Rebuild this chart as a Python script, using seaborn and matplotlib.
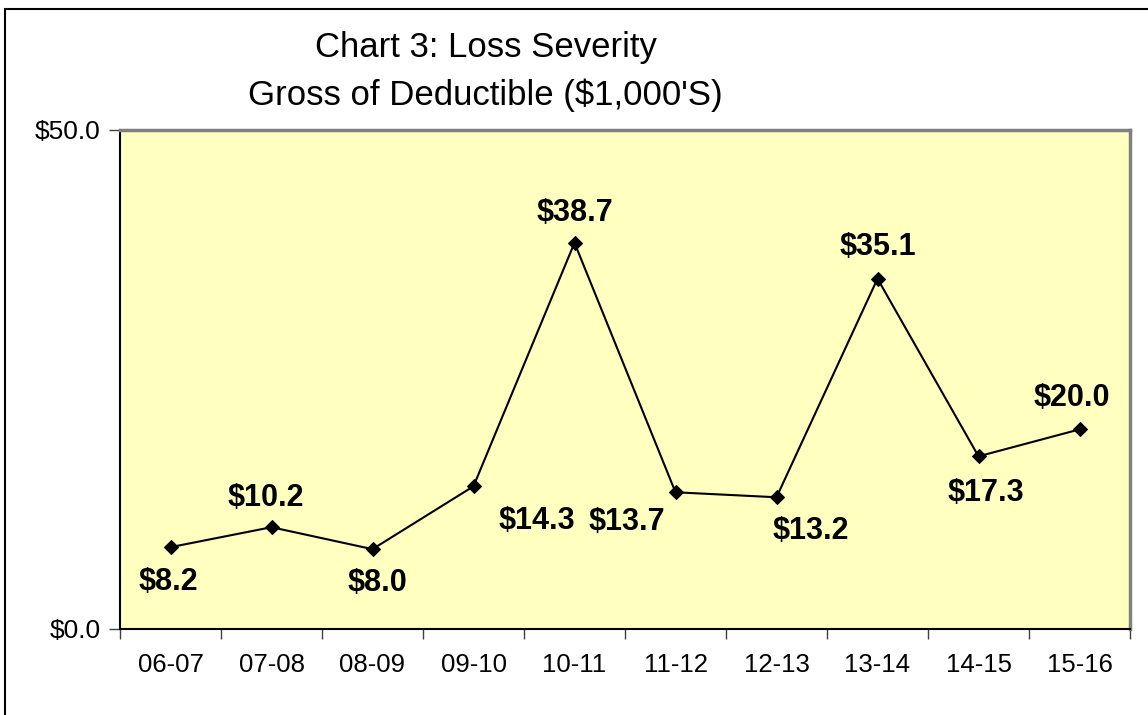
import pandas as pd
import matplotlib.pyplot as plt
import seaborn as sns
from matplotlib.lines import Line2D

# data
periods = ["06-07", "07-08", "08-09", "09-10", "10-11",
           "11-12", "12-13", "13-14", "14-15", "15-16"]
severity = [8.2, 10.2, 8.0, 14.3, 38.7, 13.7, 13.2, 35.1, 17.3, 20.0]

# where each value label sits relative to its point (pixels)
label_offsets = [(-2, -35), (-6, 29), (5, -34), (63, -35), (0, 30),
                 (-49, -30), (34, -34), (0, 32), (7, -37), (-8, 31)]

sns.set_style("white")
plt.rcParams["font.family"] = ["Liberation Sans", "DejaVu Sans"]
plt.rcParams["text.color"] = "black"

df = pd.DataFrame({"period": periods, "severity": severity})

fig = plt.figure(figsize=(11.48, 7.15), dpi=100)
ax = fig.add_axes([120 / 1148, 1 - 629 / 715, 1010 / 1148, 499 / 715])
ax.set_facecolor("#FFFFC0")

sns.lineplot(data=df, x="period", y="severity", sort=False, color="black",
             linewidth=1.5, marker="D", markersize=7, markeredgecolor="black",
             ax=ax)

for i, (v, off) in enumerate(zip(severity, label_offsets)):
    ax.annotate(f"${v:.1f}", (i, v), xytext=off, textcoords="offset pixels",
                ha="center", va="center", fontsize=22, fontweight="bold",
                color="black")

ax.set_xlim(-0.5, len(periods) - 0.5)
ax.set_ylim(0, 50)
ax.set_yticks([0, 50])
ax.set_yticklabels(["$0.0", "$50.0"])
ax.set_xticks(range(len(periods)))
ax.set_xticklabels(periods)
ax.set_xticks([i + 0.5 for i in range(-1, len(periods))], minor=True)
ax.tick_params(axis="x", which="major", length=0, labelsize=18.5, pad=17,
               labelcolor="black")
ax.tick_params(axis="x", which="minor", length=7, width=1, color="#404040",
               direction="out", bottom=True)
ax.tick_params(axis="y", length=8, width=1, color="#404040", direction="out",
               left=True, labelsize=19, pad=6, labelcolor="black")
ax.set_xlabel("")
ax.set_ylabel("")

for s in ["left", "bottom"]:
    ax.spines[s].set_color("black")
    ax.spines[s].set_linewidth(1.5)
for s in ["top", "right"]:
    ax.spines[s].set_color("#808080")
    ax.spines[s].set_linewidth(2.5)

fig.text(486 / 1148, 1 - 47 / 715, "Chart 3: Loss Severity",
         ha="center", va="center", fontsize=25, color="black")
fig.text(485 / 1148, 1 - 95 / 715, "Gross of Deductible ($1,000'S)",
         ha="center", va="center", fontsize=25, color="black")

# outer chart border
fig.add_artist(Line2D([5 / 1148, 5 / 1148], [0, 1 - 9 / 715],
                      transform=fig.transFigure, color="black", linewidth=1.5))
fig.add_artist(Line2D([5 / 1148, 1], [1 - 9 / 715, 1 - 9 / 715],
                      transform=fig.transFigure, color="black", linewidth=1.5))

fig.savefig("out.png", dpi=100)
